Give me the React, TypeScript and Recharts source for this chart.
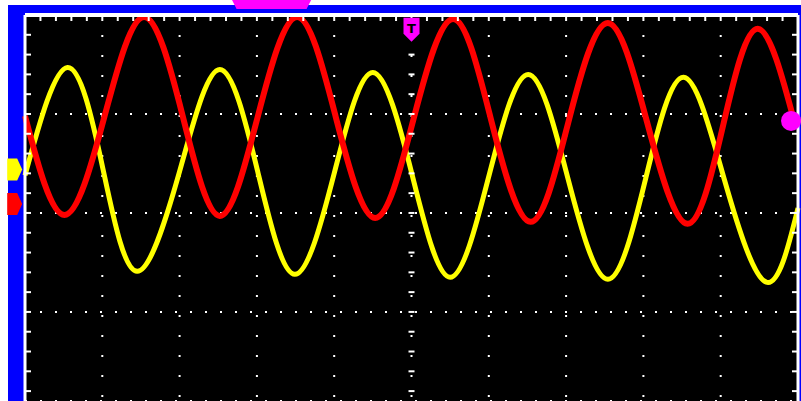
import {
  ComposedChart,
  Line,
  Scatter,
  XAxis,
  YAxis,
  CartesianGrid,
  ReferenceDot,
} from "recharts";

// scope graticule units: x = divisions from the left edge, y = divisions up from the bottom of the photo
const redTrace = [
  { x: 0, y: 2.98 },
  { x: 0.51, y: 1.98 },
  { x: 1.03, y: 2.98 },
  { x: 1.54, y: 3.98 },
  { x: 2.04, y: 2.98 },
  { x: 2.52, y: 1.97 },
  { x: 3.01, y: 2.97 },
  { x: 3.52, y: 3.98 },
  { x: 4.02, y: 2.97 },
  { x: 4.53, y: 1.95 },
  { x: 5.03, y: 2.96 },
  { x: 5.54, y: 3.96 },
  { x: 6.03, y: 2.94 },
  { x: 6.54, y: 1.91 },
  { x: 7.03, y: 2.92 },
  { x: 7.54, y: 3.92 },
  { x: 8.05, y: 2.91 },
  { x: 8.57, y: 1.89 },
  { x: 9.03, y: 2.88 },
  { x: 9.48, y: 3.86 },
  { x: 9.97, y: 2.87 },
];

const yellowTrace = [
  { x: 0, y: 2.38 },
  { x: 0.55, y: 3.47 },
  { x: 1.01, y: 2.44 },
  { x: 1.45, y: 1.41 },
  { x: 2.0, y: 2.42 },
  { x: 2.52, y: 3.45 },
  { x: 3.01, y: 2.42 },
  { x: 3.49, y: 1.38 },
  { x: 4.0, y: 2.4 },
  { x: 4.5, y: 3.42 },
  { x: 5.01, y: 2.38 },
  { x: 5.5, y: 1.35 },
  { x: 6.0, y: 2.37 },
  { x: 6.51, y: 3.4 },
  { x: 7.02, y: 2.36 },
  { x: 7.54, y: 1.33 },
  { x: 8.03, y: 2.35 },
  { x: 8.52, y: 3.37 },
  { x: 9.05, y: 2.33 },
  { x: 9.59, y: 1.3 },
  { x: 10, y: 2.05 },
];

const xMajorTicks = [1, 2, 3, 4, 5, 6, 7, 8, 9];
const yMajorTicks = [1, 2, 3];
const xMinorTicks = [
  0, 0.2, 0.4, 0.6, 0.8, 1, 1.2, 1.4, 1.6, 1.8, 2, 2.2, 2.4, 2.6, 2.8, 3, 3.2, 3.4, 3.6, 3.8,
  4, 4.2, 4.4, 4.6, 4.8, 5, 5.2, 5.4, 5.6, 5.8, 6, 6.2, 6.4, 6.6, 6.8, 7, 7.2, 7.4, 7.6, 7.8,
  8, 8.2, 8.4, 8.6, 8.8, 9, 9.2, 9.4, 9.6, 9.8, 10,
];
const yMinorTicks = [
  0.2, 0.4, 0.6, 0.8, 1, 1.2, 1.4, 1.6, 1.8, 2, 2.2, 2.4, 2.6, 2.8, 3, 3.2, 3.4, 3.6, 3.8, 4,
];

const centerAxisTicks = yMinorTicks.map((y) => ({ x: 5, y }));

const channelMarkers = [
  { x: -0.14, y: 2.44, color: "#ffff00" },
  { x: -0.14, y: 2.09, color: "#ff0000" },
];
const triggerMark = { x: 5, y: 3.85 };
const triggerLevel = { x: 9.91, y: 2.93 };
const triggerPosition = { x: 3.19, y: 4.11 };

const MAGENTA = "#ff00ff";
const X_DOMAIN = [0, 10];
const Y_DOMAIN = [0.1, 4];

const ChannelArrow = ({ cx, cy, fill }: any) => (
  <polygon
    points={`${cx - 7},${cy - 11} ${cx + 3},${cy - 11} ${cx + 8},${cy} ${cx + 3},${cy + 11} ${cx - 7},${cy + 11}`}
    fill={fill}
  />
);

const TriggerT = ({ cx, cy }: any) => (
  <g>
    <polygon
      points={`${cx - 8},${cy - 12} ${cx + 8},${cy - 12} ${cx + 8},${cy + 4} ${cx},${cy + 12} ${cx - 8},${cy + 4}`}
      fill={MAGENTA}
    />
    <text x={cx} y={cy + 3} textAnchor="middle" fontSize={13} fontWeight="bold" fontFamily="DejaVu Sans" fill="#000">
      T
    </text>
  </g>
);

const TriggerPosBar = ({ cx, cy }: any) => (
  <polygon
    points={`${cx - 40},${cy - 5} ${cx + 40},${cy - 5} ${cx + 35},${cy + 5} ${cx - 35},${cy + 5}`}
    fill={MAGENTA}
  />
);

const AxisDash = ({ cx, cy }: any) => (
  <line x1={cx - 3} x2={cx + 3} y1={cy} y2={cy} stroke="#fff" strokeWidth={2} />
);

const blank = () => "";

export default function App() {
  return (
    <div style={{ position: "absolute", left: 0, top: 0, width: 801, height: 401, background: "#fff" }}>
      <div style={{ position: "absolute", left: 8, top: 5, width: 793, height: 396, background: "#0000ff" }} />
      <div style={{ position: "absolute", left: 0, top: 0 }}>
        <ComposedChart width={801} height={401} margin={{ top: 15, right: 3, bottom: 0, left: 25 }}>
          <CartesianGrid
            xAxisId="x"
            yAxisId="y"
            vertical={false}
            fill="#000"
            fillOpacity={1}
            stroke="#fff"
            strokeWidth={2}
            strokeDasharray="2 13"
          />
          <CartesianGrid
            xAxisId="x"
            yAxisId="y"
            horizontal={false}
            stroke="#fff"
            strokeWidth={2}
            strokeDasharray="2 18"
          />
          {/* graticule divisions, used by the grid */}
          <XAxis xAxisId="x" dataKey="x" type="number" domain={X_DOMAIN} ticks={xMajorTicks} hide />
          <YAxis yAxisId="y" dataKey="y" type="number" domain={Y_DOMAIN} ticks={yMajorTicks} hide />
          {/* screen border with its minor ticks */}
          <XAxis
            xAxisId="top"
            dataKey="x"
            orientation="top"
            mirror
            height={1}
            type="number"
            domain={X_DOMAIN}
            ticks={xMinorTicks}
            tickSize={6}
            tickFormatter={blank}
            tickLine={{ stroke: "#fff", strokeWidth: 2 }}
            axisLine={{ stroke: "#fff", strokeWidth: 4 }}
          />
          <YAxis
            yAxisId="left"
            dataKey="y"
            orientation="left"
            mirror
            width={1}
            type="number"
            domain={Y_DOMAIN}
            ticks={yMinorTicks}
            tickSize={6}
            tickFormatter={blank}
            tickLine={{ stroke: "#fff", strokeWidth: 2 }}
            axisLine={{ stroke: "#fff", strokeWidth: 3 }}
          />
          <YAxis
            yAxisId="right"
            dataKey="y"
            orientation="right"
            mirror
            width={1}
            type="number"
            domain={Y_DOMAIN}
            ticks={yMinorTicks}
            tickSize={6}
            tickFormatter={blank}
            tickLine={{ stroke: "#fff", strokeWidth: 2 }}
            axisLine={{ stroke: "#fff", strokeWidth: 3 }}
          />
          <Scatter
            xAxisId="x"
            yAxisId="right"
            data={centerAxisTicks}
            dataKey="y"
            shape={<AxisDash />}
            isAnimationActive={false}
          />
          <Line
            xAxisId="top"
            yAxisId="left"
            data={yellowTrace}
            dataKey="y"
            type="natural"
            stroke="#ffff00"
            strokeWidth={5}
            dot={false}
            isAnimationActive={false}
          />
          <Line
            xAxisId="x"
            yAxisId="y"
            data={redTrace}
            dataKey="y"
            type="natural"
            stroke="#ff0000"
            strokeWidth={6}
            dot={false}
            isAnimationActive={false}
          />
          {channelMarkers.map((m) => (
            <ReferenceDot
              key={m.color}
              xAxisId="x"
              yAxisId="y"
              x={m.x}
              y={m.y}
              ifOverflow="visible"
              shape={(p: any) => <ChannelArrow cx={p.cx} cy={p.cy} fill={m.color} />}
            />
          ))}
          <ReferenceDot
            xAxisId="x"
            yAxisId="y"
            x={triggerMark.x}
            y={triggerMark.y}
            ifOverflow="visible"
            shape={(p: any) => <TriggerT cx={p.cx} cy={p.cy} />}
          />
          <ReferenceDot
            xAxisId="x"
            yAxisId="y"
            x={triggerLevel.x}
            y={triggerLevel.y}
            r={10}
            fill={MAGENTA}
            stroke="none"
            ifOverflow="visible"
          />
          <ReferenceDot
            xAxisId="x"
            yAxisId="y"
            x={triggerPosition.x}
            y={triggerPosition.y}
            ifOverflow="visible"
            shape={(p: any) => <TriggerPosBar cx={p.cx} cy={p.cy} />}
          />
        </ComposedChart>
      </div>
    </div>
  );
}
